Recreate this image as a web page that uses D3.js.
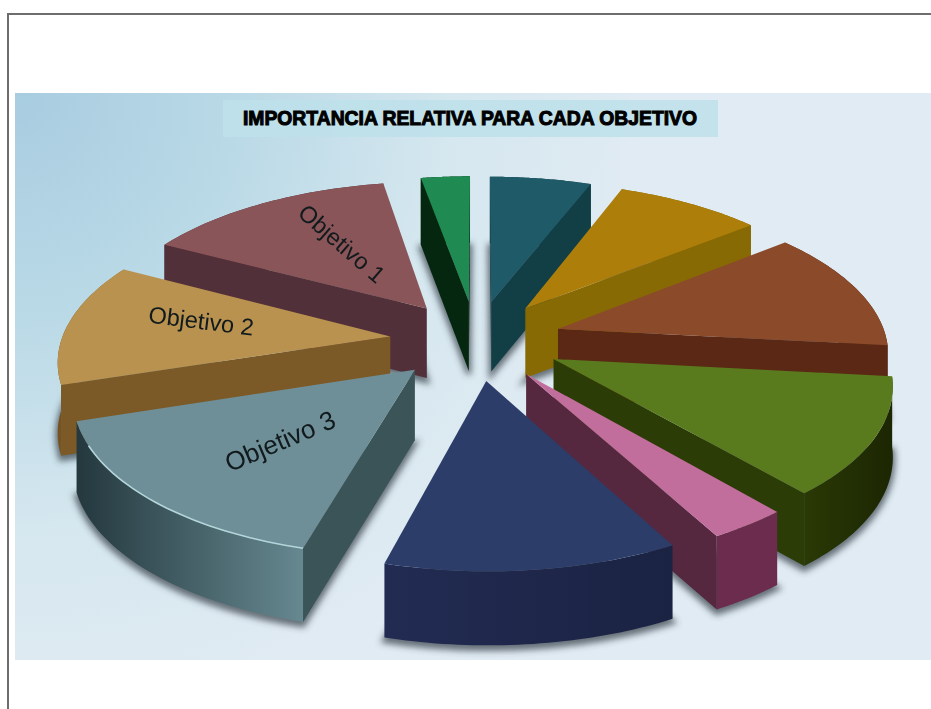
<!DOCTYPE html>
<html><head><meta charset="utf-8">
<script src="https://cdn.jsdelivr.net/npm/d3@7/dist/d3.min.js"></script>
<style>html,body{margin:0;padding:0;background:#fff;overflow:hidden}svg{display:block}text{font-family:"Liberation Sans",Arial,sans-serif}</style>
</head><body><div id="c"></div>
<script>
// Data (share of the pie, %), clockwise from the small green slice
const categories = ["Tema A","Tema B","Tema C","Tema D","Tema E","Tema F","Tema G","Objetivo 3","Objetivo 2","Objetivo 1"];
const shares = [2.8,5.8,8.35,12.55,12.1,3.3,12.1,15.8,12.8,14.4];
const title = "IMPORTANCIA RELATIVA PARA CADA OBJETIVO";
const topColors  = ["#1f8a52","#1e5a68","#ad7f0a","#8b4a2a","#5a7a1e","#c26e9c","#2d3d69","#6f8f98","#b9924f","#8a5558"];
const sideColors = ["#052710","#123e46","#876a04","#5a2814","#2c3c06","#55283f","#1d2547","#3b5458","#7b5a28","#52303a"];
const wallFrom   = ["#052710","#123e46","#876a04","#5a2814","#2a3905","#6b2c4e","#222b52","#24383e","#75521f","#52303a"];
const wallTo     = ["#052710","#0f3840","#876a04","#5a2814","#1c2603","#6b2c4e","#1b2343","#668890","#8a6428","#52303a"];
// Rotated labels: slice name, radial fraction, angle shift (deg), rotation, size
const labelNames = ["Objetivo 1","Objetivo 2","Objetivo 3"];
const labelFrac  = [0.45,0.478,0.445];
const labelShift = [4.5,4.8,-2.6];
const labelRot   = [41,7,-23];
const labelSize  = [23.5,23.5,26];

const W=931,H=709, cx=476, cy=340, A=411, B=190, persp=0.17;
const radius=0.8, explode=0.21, depth=70;

const svg=d3.select("#c").append("svg").attr("width",W).attr("height",H);
const defs=svg.append("defs");
const bg=defs.append("radialGradient").attr("id","bg").attr("gradientUnits","userSpaceOnUse")
  .attr("cx",15).attr("cy",93).attr("r",620);
bg.append("stop").attr("offset",0).attr("stop-color","#a8cce0");
bg.append("stop").attr("offset",0.35).attr("stop-color","#b9d9e6");
bg.append("stop").attr("offset",0.7).attr("stop-color","#d5e7ef");
bg.append("stop").attr("offset",1).attr("stop-color","#e0ebf3");
defs.append("filter").attr("id","blur").attr("x","-20%").attr("y","-20%").attr("width","140%").attr("height","140%")
  .append("feGaussianBlur").attr("stdDeviation",3);

// frame and picture band
svg.append("rect").attr("x",8).attr("y",14).attr("width",W).attr("height",H).attr("fill","none").attr("stroke","#6d6d6d").attr("stroke-width",2);
svg.append("rect").attr("x",15).attr("y",93).attr("width",W-15).attr("height",567).attr("fill","url(#bg)");
svg.append("rect").attr("x",223).attr("y",100).attr("width",495).attr("height",37).attr("fill","#bde0ea").attr("opacity",0.85);
svg.append("text").attr("x",243).attr("y",124.5).attr("font-size",21).attr("font-weight","bold")
  .attr("textLength",454).attr("lengthAdjust","spacingAndGlyphs")
  .attr("fill","#000").attr("stroke","#000").attr("stroke-width",1.1).text(title);

// plane (u,v) -> screen, with perspective; the drop grows slightly toward the viewer
const project=(u,v,drop=0)=>{const w=1+persp*v;return [cx+A*u/w, cy-B*v/w+drop*Math.pow(1/w,0.3)];};
const line=d3.line();

const rad=d3.scaleLinear().domain([0,360]).range([0,2*Math.PI]);
const arcs=d3.pie().sort(null).startAngle(rad(-10)).endAngle(rad(350)).value(d=>d)(shares);

const slices=arcs.map((a,i)=>{
  const mid=(a.startAngle+a.endAngle)/2;
  const ox=explode*Math.sin(mid), oy=explode*Math.cos(mid);
  const pts=d3.range(0,41).map(k=>{
    const t=a.startAngle+(a.endAngle-a.startAngle)*k/40;
    return [ox+radius*Math.sin(t), oy+radius*Math.cos(t)];
  });
  return {i,mid,ox,oy,pts,name:categories[i]};
});
const order=slices.slice().sort((a,b)=>Math.cos(b.mid)-Math.cos(a.mid));

// soft contact shadows
const shadow=svg.append("g").attr("filter","url(#blur)");
order.forEach(s=>{
  const foot=[[s.ox,s.oy],...s.pts].map(p=>project(p[0],p[1],depth+3));
  shadow.append("path").attr("d",line(foot)+"Z").attr("fill","#3c4650").attr("stroke","#3c4650").attr("stroke-width",5).attr("opacity",0.75);
});

const signedArea=q=>d3.polygonArea(q);
const g=svg.append("g");
order.forEach(s=>{
  const top=[[s.ox,s.oy],...s.pts].map(p=>project(p[0],p[1]));
  const outer=s.pts.map(p=>project(p[0],p[1]));
  const lower=s.pts.map(p=>project(p[0],p[1],depth)).reverse();
  const gid="w"+s.i;
  const lg=defs.append("linearGradient").attr("id",gid);
  lg.append("stop").attr("offset",0).attr("stop-color",wallFrom[s.i]);
  lg.append("stop").attr("offset",1).attr("stop-color",wallTo[s.i]);
  g.append("path").attr("d",line([...outer,...lower])+"Z").attr("fill",`url(#${gid})`);
  const apex=project(s.ox,s.oy), apexLow=project(s.ox,s.oy,depth);
  const first=outer[0], firstLow=lower[lower.length-1];
  const last=outer[outer.length-1], lastLow=lower[0];
  // radial faces, only those facing the viewer
  const f1=[apex,first,firstLow,apexLow], f2=[last,apex,apexLow,lastLow];
  [f1,f2].forEach(f=>{
    if(signedArea(f)<0) return;
    g.append("path").attr("d",line(f)+"Z").attr("fill",sideColors[s.i]);
  });
  g.append("path").attr("d",line(top)+"Z").attr("fill",topColors[s.i]);
  if(s.name==="Objetivo 3"){
    const front=outer.filter((p,k)=>k<=34);
    g.append("path").attr("d",line(front)).attr("fill","none").attr("stroke","#b4d6da").attr("stroke-width",1.6);
  }
});

// labels
labelNames.forEach((n,k)=>{
  const s=slices.find(d=>d.name===n);
  const t=s.mid+rad(labelShift[k]);
  const p=project(s.ox+labelFrac[k]*Math.sin(t), s.oy+labelFrac[k]*Math.cos(t));
  svg.append("text").attr("transform",`translate(${p[0]},${p[1]}) rotate(${labelRot[k]})`)
    .attr("text-anchor","middle").attr("dominant-baseline","central")
    .attr("font-size",labelSize[k]).attr("fill","#111a1c").text(n);
});
</script></body></html>
